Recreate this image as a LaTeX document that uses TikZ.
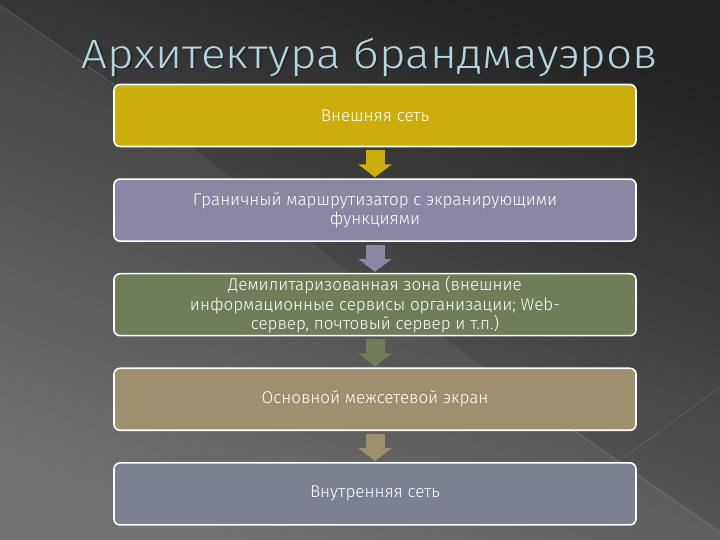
\documentclass[tikz,border=0pt]{standalone}
\usepackage{fontspec}
\setmainfont{Fira Sans Light}
\usetikzlibrary{arrows.meta,calc,positioning}
\definecolor{bgtop}{HTML}{232323}
\definecolor{bgbot}{HTML}{6A6A6A}
\definecolor{titlecol}{HTML}{B4D4DF}
\definecolor{outercol}{HTML}{CBAD0B}
\definecolor{routercol}{HTML}{8A87A4}
\definecolor{dmzcol}{HTML}{6F7D58}
\definecolor{fwcol}{HTML}{9E906F}
\definecolor{innercol}{HTML}{7C818F}
\tikzset{
  layerbox/.style={draw=white,line width=1.6pt,rounded corners=6pt,
    minimum width=522pt,minimum height=62pt,inner sep=0pt,
    text=white,align=center,font=\fontsize{17}{19.5}\selectfont},
  flowarrow/.style={line width=19pt,-{Triangle[width=33pt,length=13pt]},
    shorten <=3pt,shorten >=1pt},
  titletext/.style={font=\fontsize{41}{41}\selectfont\addfontfeature{FakeStretch=1.12}}
}
\begin{document}
\begin{tikzpicture}[x=1pt,y=1pt,node distance=31pt]
\useasboundingbox(0,0)rectangle(720,540);
%background
\shade[top color=bgtop,bottom color=bgbot,shading angle=-20](0,0)rectangle(720,540);
\fill[white,opacity=.05](0,535)--(115,455)--(340,275)--(560,120)--(720,10)--(720,0)--(0,0)--cycle;
\draw[white,opacity=.15,line width=.8pt](0,535)--(115,455);
\draw[white,opacity=.12,line width=.8pt](720,153)--(625,83);
\draw[white,opacity=.12,line width=.8pt](573,110)--(720,7);
%title
\node[titletext,text=black!85]at(371.5,481.5){Архитектура брандмауэров};
\node(title)[titletext,text=titlecol]at(370,483){Архитектура брандмауэров};
%layers
\node(outer)[layerbox,fill=outercol]at(375,424.5){Внешняя сеть};
\node(router)[layerbox,fill=routercol,below=of outer]{Граничный маршрутизатор с экранирующими\\функциями};
\node(dmz)[layerbox,fill=dmzcol,below=of router]{Демилитаризованная зона (внешние\\информационные сервисы организации; Web-\\сервер, почтовый сервер и т.п.)};
\node(fw)[layerbox,fill=fwcol,below=of dmz]{Основной межсетевой экран};
\node(inner)[layerbox,fill=innercol,below=of fw]{Внутренняя сеть};
%arrows
\draw[flowarrow,outercol](outer)--(router);
\draw[flowarrow,routercol](router)--(dmz);
\draw[flowarrow,dmzcol](dmz)--(fw);
\draw[flowarrow,fwcol](fw)--(inner);
\end{tikzpicture}
\end{document}
